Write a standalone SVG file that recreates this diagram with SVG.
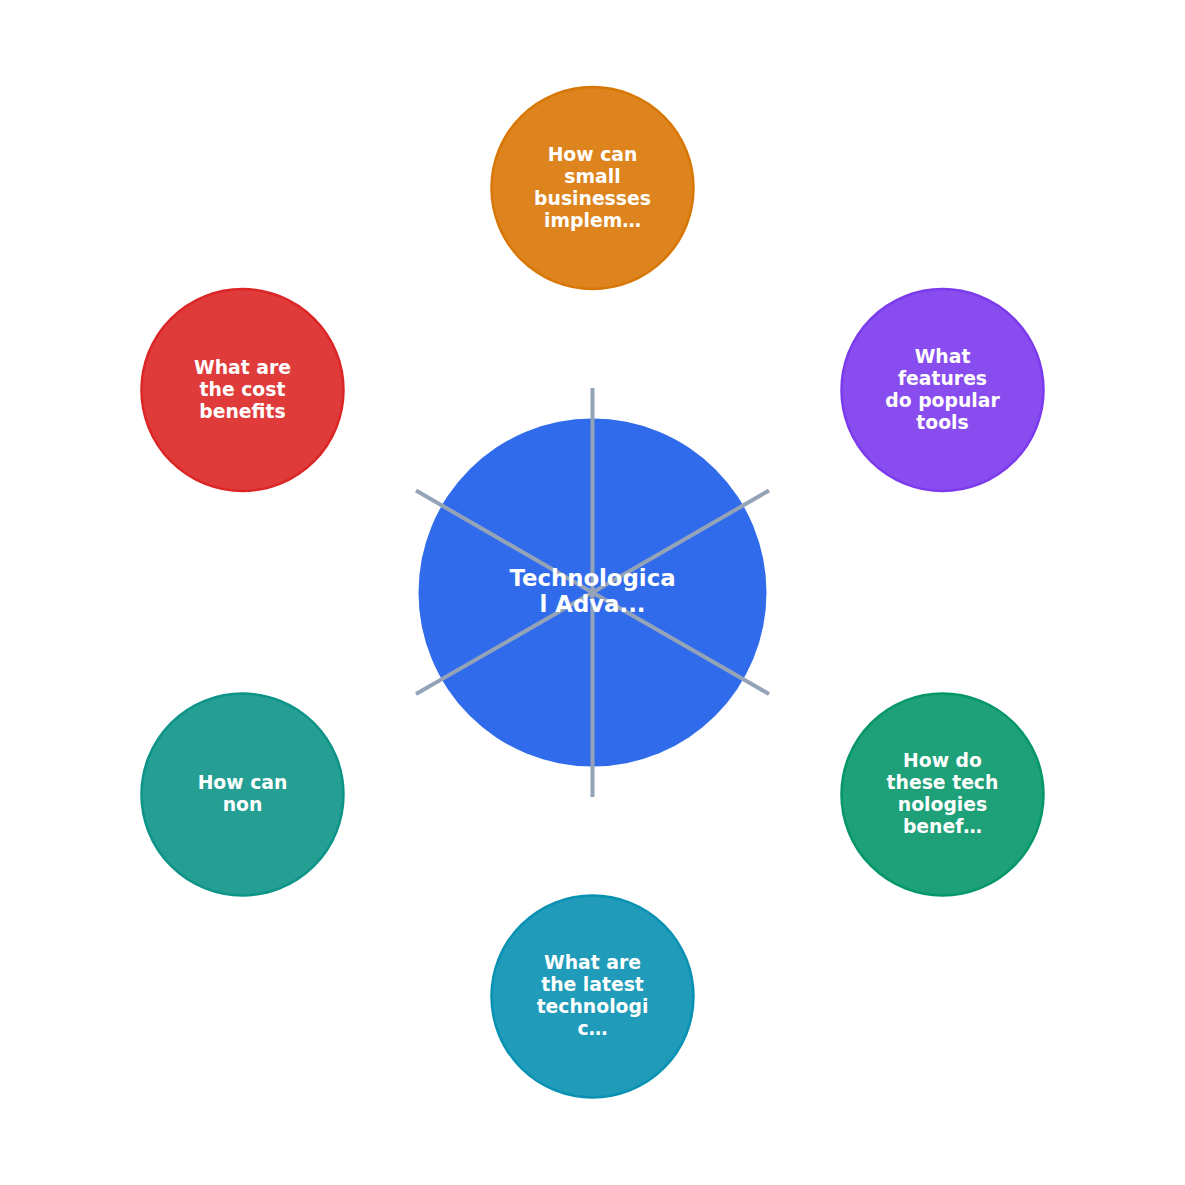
<svg xmlns="http://www.w3.org/2000/svg" width="1185" height="1185" viewBox="0 0 1185 1185">
<style>
.sat{stroke-width:2.5;fill-opacity:0.9}
.edge{stroke:#94A3B8;stroke-width:4;fill:none}
.lbl{font-family:"DejaVu Sans",sans-serif;font-weight:bold;font-size:18.8px;fill:#FFFFFF;text-anchor:middle}
.clbl{font-family:"DejaVu Sans",sans-serif;font-weight:bold;font-size:22.8px;fill:#FFFFFF;text-anchor:middle}
</style>
<rect width="1185" height="1185" fill="#FFFFFF"/>
<g id="center-node">
<circle cx="592.5" cy="592.5" r="174" fill="#2563EB" fill-opacity="0.95"/>
</g>
<g id="connectors">
<line class="edge" x1="592.5" y1="592.5" x2="592.5" y2="388"/>
<line class="edge" x1="592.5" y1="592.5" x2="769" y2="490.5"/>
<line class="edge" x1="592.5" y1="592.5" x2="769" y2="694"/>
<line class="edge" x1="592.5" y1="592.5" x2="592.5" y2="797"/>
<line class="edge" x1="592.5" y1="592.5" x2="416" y2="694"/>
<line class="edge" x1="592.5" y1="592.5" x2="416" y2="490.5"/>
</g>
<g id="center-label">
<text class="clbl" x="592.5" y="586">Technologica</text>
<text class="clbl" x="592.5" y="612">l Adva...</text>
</g>
<g id="node-top">
<circle class="sat" cx="592.5" cy="188" r="101" fill="#D97706" stroke="#D97706"/>
<text class="lbl" x="592.5" y="161">How can</text>
<text class="lbl" x="592.5" y="183">small</text>
<text class="lbl" x="592.5" y="205">businesses</text>
<text class="lbl" x="592.5" y="227">implem…</text>
</g>
<g id="node-upper-right">
<circle class="sat" cx="942.5" cy="390" r="101" fill="#7C3AED" stroke="#7C3AED"/>
<text class="lbl" x="942.5" y="363">What</text>
<text class="lbl" x="942.5" y="385">features</text>
<text class="lbl" x="942.5" y="407">do popular</text>
<text class="lbl" x="942.5" y="429">tools</text>
</g>
<g id="node-lower-right">
<circle class="sat" cx="942.5" cy="794.5" r="101" fill="#059669" stroke="#059669"/>
<text class="lbl" x="942.5" y="767">How do</text>
<text class="lbl" x="942.5" y="789">these tech</text>
<text class="lbl" x="942.5" y="811">nologies</text>
<text class="lbl" x="942.5" y="833">benef…</text>
</g>
<g id="node-bottom">
<circle class="sat" cx="592.5" cy="996.5" r="101" fill="#0891B2" stroke="#0891B2"/>
<text class="lbl" x="592.5" y="969">What are</text>
<text class="lbl" x="592.5" y="991">the latest</text>
<text class="lbl" x="592.5" y="1013">technologi</text>
<text class="lbl" x="592.5" y="1035">c…</text>
</g>
<g id="node-lower-left">
<circle class="sat" cx="242.5" cy="794.5" r="101" fill="#0D9488" stroke="#0D9488"/>
<text class="lbl" x="242.5" y="789">How can</text>
<text class="lbl" x="242.5" y="811">non</text>
</g>
<g id="node-upper-left">
<circle class="sat" cx="242.5" cy="390" r="101" fill="#DC2626" stroke="#DC2626"/>
<text class="lbl" x="242.5" y="374">What are</text>
<text class="lbl" x="242.5" y="396">the cost</text>
<text class="lbl" x="242.5" y="418">benefits</text>
</g>
</svg>
